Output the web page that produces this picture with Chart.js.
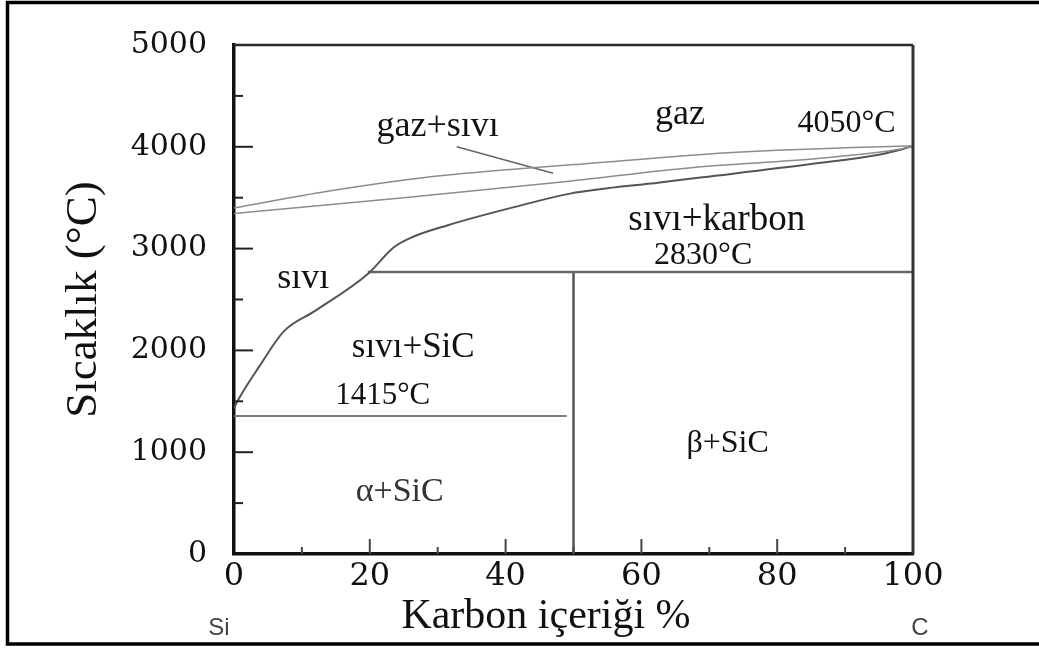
<!DOCTYPE html>
<html>
<head>
<meta charset="utf-8">
<script src="https://cdn.jsdelivr.net/npm/chart.js@4"></script>
<style>
  html, body { margin: 0; padding: 0; background: #fff; }
  canvas { display: block; }
</style>
</head>
<body>
<canvas id="phaseChart" width="1039" height="648"></canvas>
<script>
// axis ticks
const xTicks = [0, 20, 40, 60, 80, 100];
const yTicks = [0, 1000, 2000, 3000, 4000, 5000];

// phase boundaries: carbon % vs temperature °C
const gasUpperC = [0, 14, 29, 42, 50, 69, 80, 90, 100];
const gasUpperT = [3400, 3565, 3705, 3785, 3825, 3925, 3965, 3990, 4010];
const gasLowerC = [0, 25, 49, 68, 86, 98, 100];
const gasLowerT = [3345, 3500, 3660, 3800, 3885, 3975, 4005];
const liquidusC = [0, 0.5, 3.8, 7.3, 12, 19.7, 23.5, 26, 31.5, 42, 49.5, 62.7, 69, 85, 95.5, 100];
const liquidusT = [1430, 1500, 1850, 2185, 2390, 2750, 3010, 3105, 3230, 3420, 3540, 3650, 3700, 3830, 3930, 4005];
const peritecticC = [19.7, 100];
const peritecticT = [2770, 2770];
const siMeltC = [0, 49];
const siMeltT = [1355, 1355];
const sicLineC = [50, 50];
const sicLineT = [0, 2770];
const pointerC = [32.8, 47];
const pointerT = [4000, 3740];

// region labels, anchored in data units
const labelText = ['gaz+sıvı', 'gaz', '4050°C', 'sıvı+karbon', '2830°C', 'sıvı', 'sıvı+SiC', '1415°C', 'α+SiC', 'β+SiC'];
const labelC = [30.0, 65.7, 90.2, 71.1, 69.1, 10.2, 26.4, 21.9, 24.4, 72.7];
const labelT = [4106, 4221, 4144, 3183, 2846, 2615, 1933, 1471, 519, 1000];
const labelSize = [36, 36, 32, 37, 32, 36, 35, 31, 34, 32];

const SERIF = '"Liberation Serif", "Times New Roman", serif';

function pts(cs, ts) {
  return cs.map((c, i) => ({ x: c, y: ts[i] }));
}

function lineSet(cs, ts, color, width, curved) {
  return {
    data: pts(cs, ts),
    borderColor: color,
    borderWidth: width,
    pointRadius: 0,
    fill: false,
    cubicInterpolationMode: curved ? 'monotone' : 'default',
    tension: 0
  };
}

const decorations = {
  id: 'decorations',
  beforeDraw(chart) {
    const ctx = chart.ctx;
    ctx.save();
    ctx.fillStyle = '#fff';
    ctx.fillRect(0, 0, chart.width, chart.height);
    ctx.restore();
  },
  afterDraw(chart) {
    const { ctx, chartArea: a } = chart;
    const x = chart.scales.x, y = chart.scales.y;
    ctx.save();

    // outer frame
    ctx.strokeStyle = '#000';
    ctx.lineWidth = 3.5;
    ctx.beginPath();
    ctx.moveTo(chart.width, 2.5);
    ctx.lineTo(7.5, 2.5);
    ctx.lineTo(7.5, 644);
    ctx.lineTo(chart.width, 644);
    ctx.stroke();

    // top and right of the plot box
    ctx.strokeStyle = '#2a2a2a';
    ctx.lineWidth = 2.5;
    ctx.beginPath();
    ctx.moveTo(a.left, a.top);
    ctx.lineTo(a.right, a.top);
    ctx.stroke();
    ctx.strokeStyle = '#333';
    ctx.lineWidth = 3;
    ctx.beginPath();
    ctx.moveTo(a.right, a.top);
    ctx.lineTo(a.right, a.bottom);
    ctx.stroke();

    // inward ticks
    ctx.strokeStyle = '#222';
    ctx.lineWidth = 2;
    for (let v = 500; v < 5000; v += 500) {
      const py = y.getPixelForValue(v);
      const len = v % 1000 === 0 ? 19 : 9;
      ctx.beginPath();
      ctx.moveTo(a.left, py);
      ctx.lineTo(a.left + len, py);
      ctx.stroke();
    }
    ctx.strokeStyle = '#444';
    for (let v = 10; v < 100; v += 10) {
      const px = x.getPixelForValue(v);
      const len = v % 20 === 0 ? 15 : 7;
      ctx.beginPath();
      ctx.moveTo(px, a.bottom);
      ctx.lineTo(px, a.bottom - len);
      ctx.stroke();
    }

    // region labels
    ctx.textAlign = 'center';
    ctx.textBaseline = 'alphabetic';
    labelText.forEach((t, i) => {
      ctx.font = labelSize[i] + 'px ' + SERIF;
      ctx.fillStyle = t === 'α+SiC' ? '#333' : '#111';
      ctx.fillText(t, x.getPixelForValue(labelC[i]), y.getPixelForValue(labelT[i]));
    });

    // x axis title
    ctx.fillStyle = '#111';
    ctx.font = '42px ' + SERIF;
    ctx.fillText('Karbon içeriği %', 546, 628);

    // end member marks
    ctx.fillStyle = '#444';
    ctx.font = '24px "Liberation Sans", Arial, sans-serif';
    ctx.textBaseline = 'middle';
    ctx.fillText('Si', 219, 628);
    ctx.fillText('C', 920, 628);

    ctx.restore();
  }
};

new Chart(document.getElementById('phaseChart'), {
  type: 'line',
  data: {
    datasets: [
      lineSet(gasUpperC, gasUpperT, '#8c8c8c', 1.5, true),
      lineSet(gasLowerC, gasLowerT, '#8c8c8c', 1.5, true),
      lineSet(liquidusC, liquidusT, '#555', 2, true),
      lineSet(peritecticC, peritecticT, '#666', 2.5, false),
      lineSet(siMeltC, siMeltT, '#7a7a7a', 2, false),
      lineSet(sicLineC, sicLineT, '#555', 2.5, false),
      lineSet(pointerC, pointerT, '#666', 1.5, false)
    ]
  },
  options: {
    responsive: false,
    animation: false,
    layout: { padding: { left: 0, top: 34, right: 126, bottom: 0 } },
    plugins: {
      legend: { display: false },
      tooltip: { enabled: false }
    },
    scales: {
      x: {
        type: 'linear',
        position: 'bottom',
        min: 0,
        max: 100,
        afterBuildTicks: s => { s.ticks = xTicks.map(v => ({ value: v })); },
        afterFit: s => { s.height = 94; },
        grid: { display: true, drawOnChartArea: false, drawTicks: false },
        border: { display: true, color: '#111', width: 3.5 },
        ticks: {
          padding: 3,
          maxRotation: 0,
          color: '#111',
          callback: v => String(v),
          font: { family: '"DejaVu Serif", serif', size: 32 }
        }
      },
      y: {
        type: 'linear',
        position: 'left',
        min: 0,
        max: 5000,
        afterBuildTicks: s => { s.ticks = yTicks.map(v => ({ value: v })); },
        afterFit: s => { s.width = 234; },
        grid: { display: true, drawOnChartArea: false, drawTicks: false },
        border: { display: true, color: '#111', width: 3.5 },
        ticks: {
          padding: 27,
          color: '#111',
          callback: v => String(v),
          font: { family: '"DejaVu Serif", serif', size: 30 }
        },
        title: {
          display: true,
          text: 'Sıcaklık (°C)',
          color: '#111',
          padding: { top: 57, bottom: 0 },
          font: { family: SERIF, size: 45 }
        }
      }
    }
  },
  plugins: [decorations]
});
</script>
</body>
</html>
